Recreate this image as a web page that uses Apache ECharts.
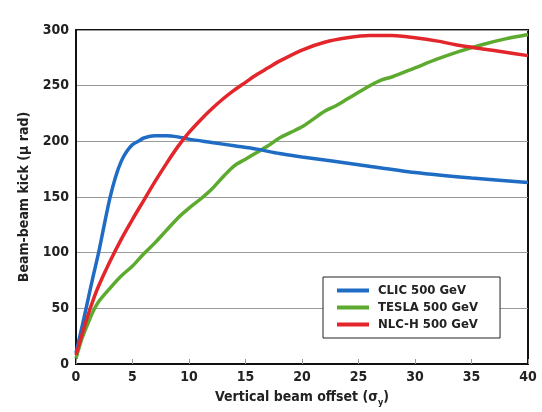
<!DOCTYPE html>
<html><head><meta charset="utf-8">
<script src="https://cdn.jsdelivr.net/npm/echarts@6/dist/echarts.min.js"></script>
<style>html,body{margin:0;padding:0;background:#fff}#c{width:542px;height:412px}</style>
</head><body><div id="c"></div>
<script>
const xTicks = [0,5,10,15,20,25,30,35,40];
const yTicks = [0,50,100,150,200,250,300];
const seriesNames = ['CLIC 500 GeV','TESLA 500 GeV','NLC-H 500 GeV'];
const clicX = [0,0.5,1,1.5,2,2.5,3,3.5,4,4.5,5,5.5,6,7,8,9,10,12,14,16,18,20,25,30,35,40];
const clicY = [10,32,55,78,100,125,149,168,182,191,197,200,203,205,205,204,202,199,196,193,189,186,179,172,167,163];
const teslaX = [0,0.5,1,1.5,2,3,4,5,6,7,8,9,10,11,12,13,14,15,16,17,18,19,20,21,22,23,24,25,26,27,28,30,32,34,36,38,40];
const teslaY = [5,22,35,47,56,68,79,88,99,109,120,131,140,148,157,168,178,184,190,196,203,208,213,220,227,232,238,244,250,255,258,266,274,281,287,292,296];
const nlcX = [0,1,1.5,2,3,4,5,6,7,8,9,10,11,12,13,14,15,16,17,18,20,22,24,26,28,30,32,34,36,38,40];
const nlcY = [8,42,57,70,92,112,130,147,164,180,195,208,219,229,238,246,253,260,266,272,282,289,293,295,295,293,290,286,283,280,277];

const FONT = '"Liberation Sans Narrow","DejaVu Sans Condensed","Liberation Sans",sans-serif';
const pair = (xs, ys) => xs.map((x,i)=>[x, ys[i]]);
const colors = ['#1f6cc4','#5cab2f','#e3262b'];
const chart = echarts.init(document.getElementById('c'), null, {renderer:'canvas'});
chart.setOption({
  backgroundColor:'#fff',
  animation:false,
  grid:{left:76,right:14,top:30,bottom:45,show:true,borderColor:'#111',borderWidth:2,backgroundColor:'#fff'},
  legend:{
    orient:'vertical', left:323, top:277, width:170,
    backgroundColor:'#fff', borderColor:'#222', borderWidth:1,
    padding:[7,22,7,14], itemGap:4,
    icon:'rect', itemWidth:32, itemHeight:4,
    textStyle:{fontFamily:FONT,fontSize:13,fontWeight:'bold',color:'#222',padding:[0,0,0,4]},
    data:seriesNames
  },
  xAxis:{
    type:'value', min:xTicks[0], max:xTicks[xTicks.length-1], interval:5,
    axisLine:{lineStyle:{color:'#111',width:2}},
    axisTick:{show:true,inside:true,length:5,lineStyle:{color:'#999'}},
    splitLine:{show:false},
    axisLabel:{fontFamily:FONT,fontSize:14,fontWeight:'bold',color:'#222',margin:6},
    name:'{a|Vertical beam offset (σ}{s|y}{a|)}',
    nameLocation:'middle', nameGap:24,
    nameTextStyle:{rich:{a:{fontFamily:FONT,fontSize:14,fontWeight:'bold',color:'#222'},s:{fontFamily:FONT,fontSize:9,fontWeight:'bold',color:'#222',padding:[10,0,0,0]}}}
  },
  yAxis:{
    type:'value', min:yTicks[0], max:yTicks[yTicks.length-1], interval:50,
    axisLine:{lineStyle:{color:'#111',width:2}},
    axisTick:{show:false},
    splitLine:{show:true,lineStyle:{color:'#999',width:1}},
    axisLabel:{fontFamily:FONT,fontSize:14,fontWeight:'bold',color:'#222',margin:7},
    name:'Beam-beam kick (μ rad)', nameLocation:'middle', nameGap:42,
    nameTextStyle:{fontFamily:FONT,fontSize:14,fontWeight:'bold',color:'#222'}
  },
  series:[
    {name:seriesNames[0],type:'line',smooth:0.3,showSymbol:false,data:pair(clicX,clicY),lineStyle:{width:3.5,color:colors[0]},itemStyle:{color:colors[0]},z:3},
    {name:seriesNames[1],type:'line',smooth:0.3,showSymbol:false,data:pair(teslaX,teslaY),lineStyle:{width:3.5,color:colors[1]},itemStyle:{color:colors[1]},z:2},
    {name:seriesNames[2],type:'line',smooth:0.3,showSymbol:false,data:pair(nlcX,nlcY),lineStyle:{width:3.5,color:colors[2]},itemStyle:{color:colors[2]},z:4}
  ]
});
</script></body></html>
